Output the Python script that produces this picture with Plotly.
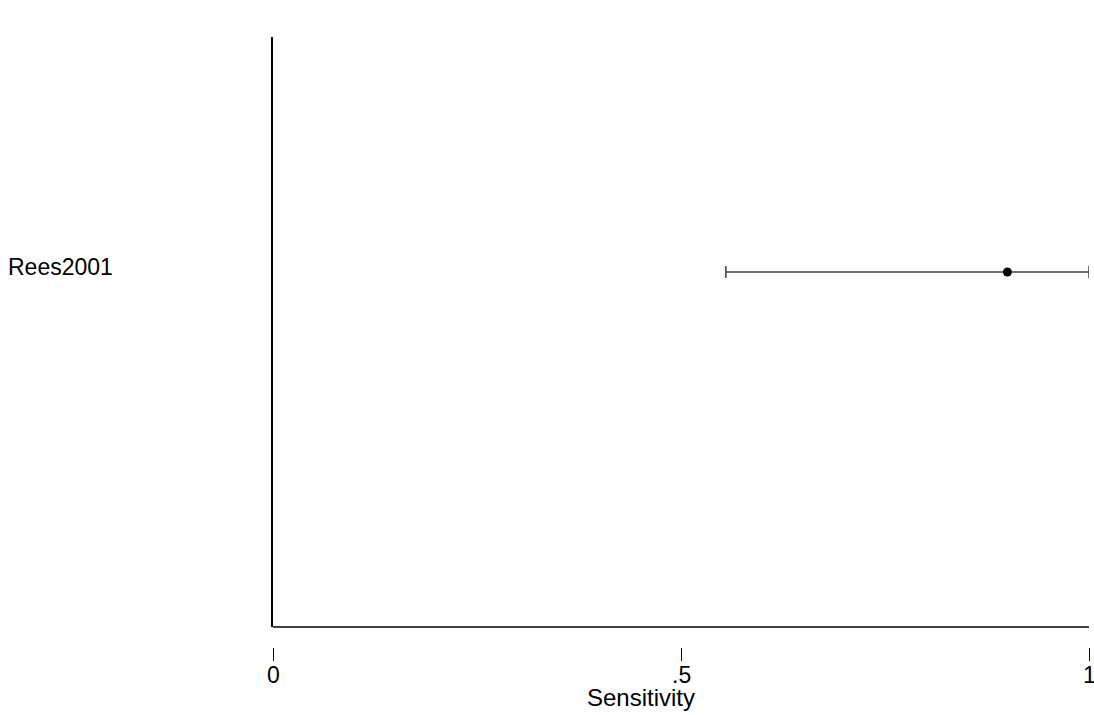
import plotly.graph_objects as go

# Study-level sensitivity with 95% confidence interval
studies = ["Rees2001"]
sensitivity = [0.90]
ci_low = [0.555]
ci_high = [1.0]
study_pos = [1]

tick_vals = [0, 0.5, 1]
tick_text = ["0", ".5", "1"]

FONT = "Liberation Sans, Arial, sans-serif"
PLOT_H = 715 - 37 - 55

fig = go.Figure()

fig.add_trace(go.Scatter(
    x=sensitivity,
    y=study_pos,
    mode="markers",
    marker=dict(color="black", size=9),
    error_x=dict(
        type="data",
        symmetric=False,
        array=[h - s for h, s in zip(ci_high, sensitivity)],
        arrayminus=[s - l for s, l in zip(sensitivity, ci_low)],
        color="#444444",
        thickness=1.5,
        width=6,
    ),
    cliponaxis=False,
    showlegend=False,
    hoverinfo="skip",
))

# Study labels at the far left
for name, pos in zip(studies, study_pos):
    fig.add_annotation(
        x=-0.3273, xref="paper", y=pos, yref="y",
        text=name, showarrow=False, xanchor="left", yanchor="middle",
        yshift=5, font=dict(family=FONT, size=23, color="black"),
    )

# Tick labels sitting right under the detached tick marks
for v, t in zip(tick_vals, tick_text):
    fig.add_annotation(
        x=v, xref="x", y=-15 / PLOT_H, yref="paper",
        text=t, showarrow=False, xanchor="center", yanchor="middle",
        font=dict(family=FONT, size=23, color="black"),
    )

# Axis title
fig.add_annotation(
    x=(641 - 273) / 816, xref="paper", y=-0.060, yref="paper",
    text="Sensitivity", showarrow=False, xanchor="center", yanchor="middle",
    font=dict(family=FONT, size=24, color="black"),
)

# Bottom frame line of the plot region
fig.add_shape(
    type="line", xref="x domain", yref="y domain",
    x0=0, x1=1, y0=0, y1=0,
    line=dict(color="black", width=1.5),
)

fig.update_layout(
    width=1094, height=715,
    margin=dict(l=273, r=5, t=37, b=55, autoexpand=False),
    paper_bgcolor="white", plot_bgcolor="white",
    font=dict(family=FONT, color="black"),
    # detached tick marks below the frame
    xaxis=dict(
        range=[0, 1], tickvals=tick_vals,
        showline=False, showgrid=False, zeroline=False, showticklabels=False,
        ticks="outside", ticklen=13, tickwidth=1, tickcolor="black",
        anchor="free", position=13 / PLOT_H,
    ),
    yaxis=dict(
        range=[0, 1.662], domain=[33 / PLOT_H, 1],
        showline=True, linecolor="black", linewidth=1.5,
        showgrid=False, zeroline=False, showticklabels=False, ticks="",
    ),
)

fig.write_html("out.html")
